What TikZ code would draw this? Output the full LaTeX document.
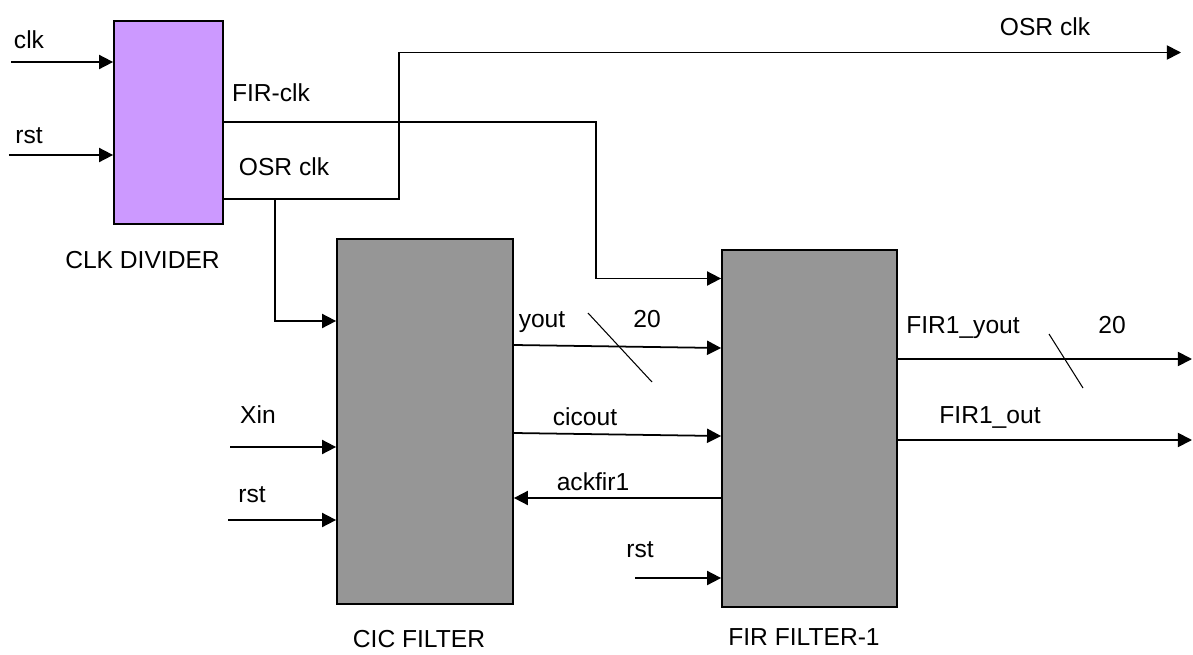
\documentclass[tikz,border=0pt]{standalone}
\usepackage{fontspec}
\setmainfont{Liberation Sans}
\usetikzlibrary{arrows.meta}

\definecolor{divpurple}{RGB}{204,153,255}
\definecolor{filtgray}{RGB}{150,150,150}

\tikzset{
    block/.style={draw, line width=1pt, minimum width=#1, inner sep=0pt},
    sig/.style={line width=1pt, -{Triangle[length=8pt,width=8pt]}},
    bus/.style={line width=0.6pt},
    lbl/.style={anchor=base, inner sep=0pt, font=\fontsize{14}{16}\selectfont}
}

\begin{document}
\begin{tikzpicture}
        \useasboundingbox (0,0) rectangle (23.86,-13.1);

        % draw blocks
        \node[block=2.18cm, minimum height=4.06cm, fill=divpurple] (clkdiv) at (3.37,-2.45) {};
        \node[block=3.52cm, minimum height=7.30cm, fill=filtgray] (cic) at (8.50,-8.43) {};
        \node[block=3.50cm, minimum height=7.14cm, fill=filtgray] (fir) at (16.19,-8.57) {};

        % free ends
        \coordinate (clkin) at (0.22,-1.24);
        \coordinate (rstin) at (0.18,-3.10);
        \coordinate (osrout) at (23.62,-1.05);
        \coordinate (osrtap) at (5.50,-3.98);
        \coordinate (xin) at (4.60,-8.94);
        \coordinate (rstcic) at (4.56,-10.40);
        \coordinate (rstfir) at (12.70,-11.56);
        \coordinate (firyout) at (23.84,-7.18);
        \coordinate (firout) at (23.84,-8.80);

        % draw clock divider wires
        \draw[sig] (clkin) -- (clkin -| clkdiv.west);
        \draw[sig] (rstin) -- (rstin -| clkdiv.west);
        \draw[sig] (clkdiv.east |- 0,-2.44) -- (11.92,-2.44) -- (11.92,-5.57) -- (fir.west |- 0,-5.57);
        \draw[sig] (clkdiv.east |- osrtap) -- (7.98,-3.98) -- (7.98,-1.05) -- (osrout);
        \draw[sig] (osrtap) -- (5.50,-6.42) -- (cic.west |- 0,-6.42);

        % draw cic wires
        \draw[sig] (xin) -- (xin -| cic.west);
        \draw[sig] (rstcic) -- (rstcic -| cic.west);
        \draw[sig] (cic.east |- 0,-6.90) -- (fir.west |- 0,-6.96);
        \draw[sig] (cic.east |- 0,-8.66) -- (fir.west |- 0,-8.72);
        \draw[sig] (fir.west |- 0,-9.96) -- (cic.east |- 0,-9.96);

        % draw fir wires
        \draw[sig] (rstfir) -- (rstfir -| fir.west);
        \draw[sig] (fir.east |- firyout) -- (firyout);
        \draw[sig] (fir.east |- firout) -- (firout);

        % draw bus slashes
        \draw[bus] (11.76,-6.26) -- (13.04,-7.64);
        \draw[bus] (20.98,-6.68) -- (21.66,-7.76);

        % draw labels
        \node[lbl] at (0.58,-0.96) {clk};
        \node[lbl] at (0.58,-2.86) {rst};
        \node[lbl] at (5.42,-2.02) {FIR-clk};
        \node[lbl] at (5.68,-3.50) {OSR clk};
        \node[lbl] at (2.85,-5.36) {CLK DIVIDER};
        \node[lbl] at (20.90,-0.70) {OSR clk};
        \node[lbl] at (10.84,-6.54) {yout};
        \node[lbl] at (12.94,-6.54) {20};
        \node[lbl] at (5.16,-8.46) {Xin};
        \node[lbl] at (5.04,-10.04) {rst};
        \node[lbl] at (11.70,-8.50) {cicout};
        \node[lbl] at (11.86,-9.80) {ackfir1};
        \node[lbl] at (12.80,-11.14) {rst};
        \node[lbl] at (8.38,-12.94) {CIC FILTER};
        \node[lbl] at (19.26,-6.66) {FIR1\_yout};
        \node[lbl] at (22.24,-6.66) {20};
        \node[lbl] at (19.80,-8.46) {FIR1\_out};
        \node[lbl] at (16.08,-12.90) {FIR FILTER-1};
\end{tikzpicture}
\end{document}
